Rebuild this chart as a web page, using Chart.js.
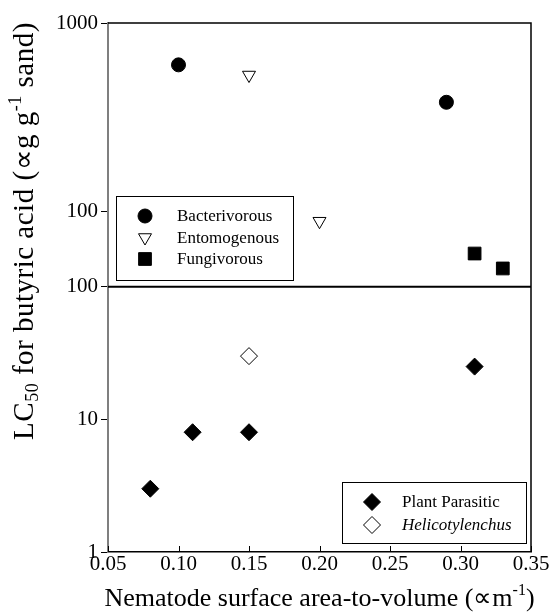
<!DOCTYPE html>
<html><head><meta charset="utf-8">
<script src="https://cdn.jsdelivr.net/npm/chart.js@4/dist/chart.umd.min.js"></script>
<style>html,body{margin:0;padding:0;background:#fff}#wrap{width:551px;height:616px;position:relative}</style>
</head><body><div id="wrap"><canvas id="c"></canvas></div>
<script>
// ---- data ----
const bactX = [0.10, 0.29], bactY = [600, 380];
const entoX = [0.15, 0.20], entoY = [530, 89];
const fungX = [0.31, 0.33], fungY = [60, 50];
const plantX = [0.08, 0.11, 0.15, 0.31], plantY = [3, 8, 8, 25];
const heliX = [0.15], heliY = [30];
const xTicks = [0.05, 0.10, 0.15, 0.20, 0.25, 0.30, 0.35];
const yTopTicks = [100, 1000];
const yBotTicks = [1, 10, 100];
const seriesNames = ['Bacterivorous', 'Entomogenous', 'Fungivorous', 'Plant Parasitic', 'Helicotylenchus'];
const xTitle = 'Nematode surface area-to-volume (\u221Dm';
const xTitleSup = '-1';
const yTitleParts = ['LC', '50', ' for butyric acid (\u221Dg g', '-1', ' sand)'];

const FONT = "'Liberation Serif','Times New Roman',serif";
Chart.defaults.font.family = FONT;
Chart.defaults.color = '#000';

const pts = (xs, ys) => xs.map((x, i) => ({x: x, y: ys[i]}));

const datasets = [
  {label: seriesNames[0], data: pts(bactX, bactY), yAxisID: 'yTop', pointStyle: 'circle', pointRadius: 7, backgroundColor: '#000', borderColor: '#000', borderWidth: 1},
  {label: seriesNames[1], data: pts(entoX, entoY), yAxisID: 'yTop', pointStyle: 'triangle', rotation: 180, pointRadius: 7.5, backgroundColor: '#fff', borderColor: '#000', borderWidth: 1},
  {label: seriesNames[2], data: pts(fungX, fungY), yAxisID: 'yTop', pointStyle: 'rect', pointRadius: 9, backgroundColor: '#000', borderColor: '#000', borderWidth: 1},
  {label: seriesNames[3], data: pts(plantX, plantY), yAxisID: 'yBot', pointStyle: 'rectRot', pointRadius: 8.5, backgroundColor: '#000', borderColor: '#000', borderWidth: 1},
  {label: seriesNames[4], data: pts(heliX, heliY), yAxisID: 'yBot', pointStyle: 'rectRot', pointRadius: 8.5, backgroundColor: '#fff', borderColor: '#000', borderWidth: 1, italic: true}
];

function drawPieces(ctx, pieces, cx, baseY, spacing) {
  ctx.letterSpacing = (spacing || 0) + 'px';
  let w = 0;
  pieces.forEach(p => { ctx.font = p.size + 'px ' + FONT; p.w = ctx.measureText(p.t).width; w += p.w; });
  let x = cx - w / 2;
  pieces.forEach(p => { ctx.font = p.size + 'px ' + FONT; ctx.fillText(p.t, x, baseY + (p.dy || 0)); x += p.w; });
  ctx.letterSpacing = '0px';
}

function drawLegend(ctx, chart, idxs, box, mx, tx, rowsY) {
  ctx.save();
  ctx.fillStyle = '#fff';
  ctx.fillRect(box.l, box.t, box.r - box.l, box.b - box.t);
  ctx.strokeStyle = '#000'; ctx.lineWidth = 1;
  ctx.strokeRect(box.l + 0.5, box.t + 0.5, box.r - box.l, box.b - box.t);
  idxs.forEach((di, k) => {
    const ds = chart.data.datasets[di];
    ctx.fillStyle = ds.backgroundColor; ctx.strokeStyle = ds.borderColor; ctx.lineWidth = ds.borderWidth;
    Chart.helpers.drawPoint(ctx, {pointStyle: ds.pointStyle, radius: ds.pointRadius, rotation: ds.rotation || 0, borderWidth: ds.borderWidth}, mx, rowsY[k]);
    ctx.fillStyle = '#000';
    ctx.font = (ds.italic ? 'italic ' : '') + '17px ' + FONT;
    ctx.textBaseline = 'middle'; ctx.textAlign = 'left';
    ctx.fillText(ds.label, tx, rowsY[k] + 1);
  });
  ctx.restore();
}

const deco = {
  id: 'deco',
  afterDraw(chart) {
    const ctx = chart.ctx, a = chart.chartArea, xs = chart.scales.x, yb = chart.scales.yBot;
    ctx.save();
    ctx.strokeStyle = '#000';
    ctx.lineWidth = 1.5;
    ctx.beginPath();
    ctx.moveTo(a.left, a.top); ctx.lineTo(a.right, a.top); ctx.lineTo(a.right, a.bottom);
    ctx.stroke();
    const my = yb.getPixelForValue(yBotTicks[yBotTicks.length - 1]);
    ctx.lineWidth = 2;
    ctx.beginPath(); ctx.moveTo(a.left, my); ctx.lineTo(a.right, my); ctx.stroke();
    ctx.lineWidth = 1;
    xTicks.forEach(v => {
      const px = Math.round(xs.getPixelForValue(v)) + 0.5;
      ctx.beginPath(); ctx.moveTo(px, a.bottom); ctx.lineTo(px, a.bottom - 6); ctx.stroke();
    });
    drawLegend(ctx, chart, [0, 1, 2], {l: 116, t: 196, r: 293, b: 280}, 145, 177, [216, 237.5, 259]);
    drawLegend(ctx, chart, [3, 4], {l: 342, t: 482, r: 526, b: 543}, 372, 402, [502, 525]);
    ctx.fillStyle = '#000'; ctx.textBaseline = 'alphabetic'; ctx.textAlign = 'left';
    drawPieces(ctx, [{t: xTitle, size: 26}, {t: xTitleSup, size: 16, dy: -11}, {t: ')', size: 26}], (a.left + a.right) / 2, 606, 0);
    ctx.translate(33, 231);
    ctx.rotate(-Math.PI / 2);
    drawPieces(ctx, [
      {t: yTitleParts[0], size: 29}, {t: yTitleParts[1], size: 18, dy: 5},
      {t: yTitleParts[2], size: 29}, {t: yTitleParts[3], size: 18, dy: -12},
      {t: yTitleParts[4], size: 29}], 0, 0, 0.5);
    ctx.restore();
  }
};

const yCommon = {
  type: 'logarithmic', position: 'left', stack: 'panels',
  grid: {display: true, drawOnChartArea: false, drawTicks: true, tickLength: 7, color: '#000', lineWidth: 1},
  border: {display: true, color: '#7f7f7f', width: 2},
  ticks: {font: {size: 21, family: FONT}, color: '#000', padding: 3, callback: v => String(v)},
  afterFit(s) { s.width = 108; }
};

new Chart(document.getElementById('c'), {
  type: 'scatter',
  data: {datasets},
  options: {
    responsive: true, maintainAspectRatio: false, animation: false,
    layout: {padding: {left: 0, top: 23, right: 20, bottom: 0}},
    plugins: {legend: {display: false}, tooltip: {enabled: false}},
    scales: {
      x: {
        type: 'linear', min: 0.05, max: 0.35,
        grid: {display: false, drawTicks: false},
        border: {display: true, color: '#000', width: 1.5},
        ticks: {font: {size: 21, family: FONT}, color: '#000', padding: 0, maxRotation: 0, callback: v => Number(v).toFixed(2)},
        afterBuildTicks(s) { s.ticks = xTicks.map(v => ({value: v})); },
        afterFit(s) { s.height = 64; }
      },
      yBot: Object.assign({}, yCommon, {
        min: 1, max: 100, stackWeight: 265,
        afterBuildTicks(s) { s.ticks = yBotTicks.map(v => ({value: v})); }
      }),
      yTop: Object.assign({}, yCommon, {
        min: 40, max: 1000, stackWeight: 263.5,
        afterBuildTicks(s) { s.ticks = yTopTicks.map(v => ({value: v})); }
      })
    }
  },
  plugins: [deco]
});
</script>
</body></html>
